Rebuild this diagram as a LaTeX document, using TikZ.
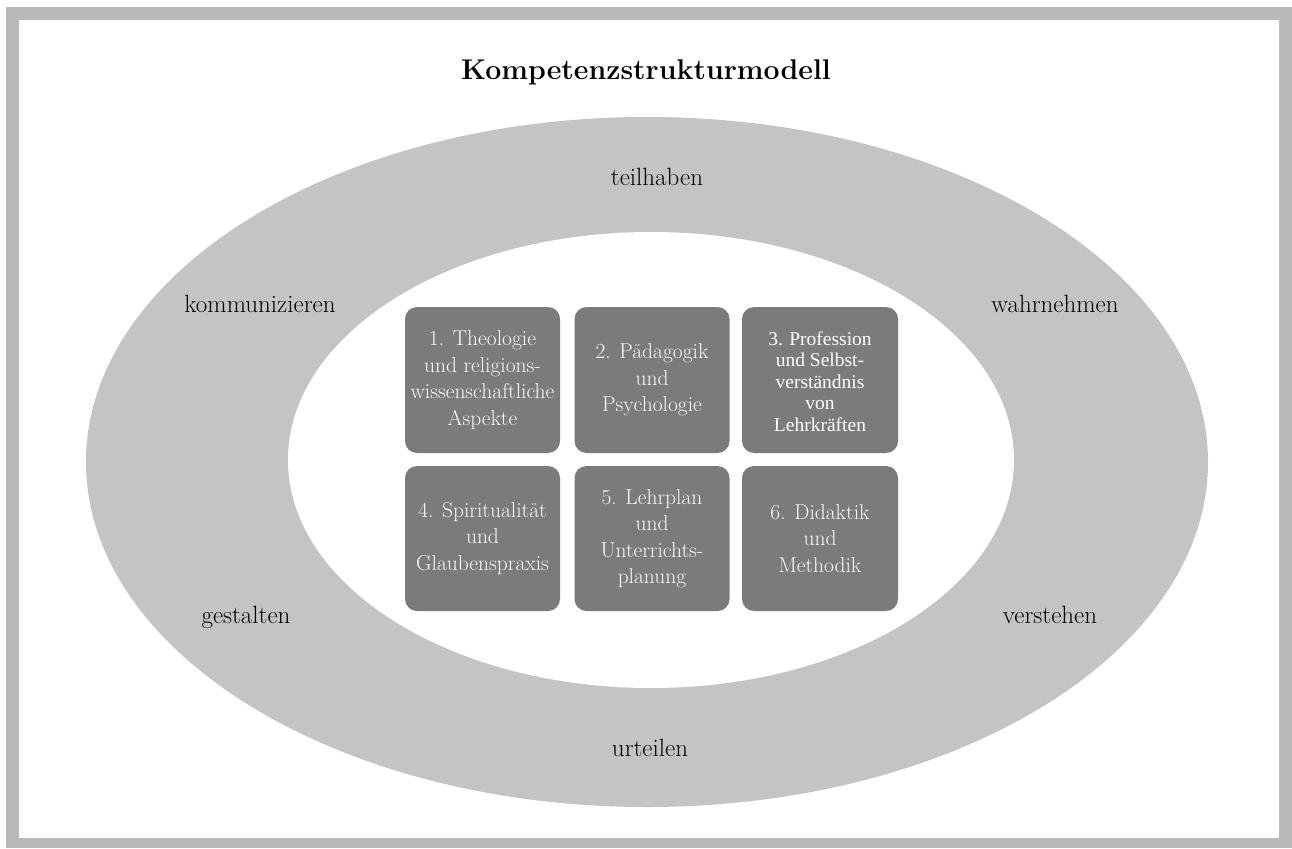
\documentclass[tikz,border=0pt]{standalone}
\usepackage{fontspec}
\newfontfamily\timesfont{Liberation Serif}
\definecolor{framegray}{HTML}{B9B9B9}
\definecolor{ringgray}{HTML}{C4C4C4}
\definecolor{boxgray}{HTML}{7B7B7B}
\definecolor{boxtext}{HTML}{FAFAFA}
\tikzset{
  ringlabel/.style={font=\fontsize{25}{29}\selectfont, text=black, inner sep=0pt, anchor=base},
  compbox/.style={fill=boxgray, rounded corners=12pt, minimum width=155pt, minimum height=146pt,
    text=boxtext, align=center, font=\fontsize{21.5}{26.5}\selectfont, inner sep=0pt},
  timesbox/.style={compbox, text=white, font=\timesfont\fontsize{19.5}{22}\selectfont},
}
\begin{document}
\begin{tikzpicture}[x=1pt,y=-1pt]
\useasboundingbox (0,0) rectangle (1292,848);
\fill[framegray] (6,7) rectangle (1292,848);
\fill[white] (19,20) rectangle (1279,838);
\fill[ringgray] (647,462) ellipse [x radius=561pt, y radius=345pt];
\fill[white] (651,460) ellipse [x radius=363pt, y radius=228pt];

\node[anchor=base, inner sep=0pt, font=\bfseries\fontsize{28.5}{32}\selectfont, text=black] (title) at (646,80) {Kompetenzstrukturmodell};

\node[ringlabel] (teil) at (657,185) {teilhaben};
\node[ringlabel] (komm) at (260,312) {kommunizieren};
\node[ringlabel] (wahr) at (1055,312) {wahrnehmen};
\node[ringlabel] (gest) at (246,623) {gestalten};
\node[ringlabel] (vers) at (1050,623) {verstehen};
\node[ringlabel] (urte) at (650,756) {urteilen};

\node[compbox] (b1) at (482.5,380) {1. Theologie\\und religions-\\wissenschaftliche\\Aspekte};
\node[compbox] (b2) at (652,380) {2. Pädagogik\\und\\Psychologie};
\node[timesbox, minimum width=156pt] (b3) at (820,380) {\raisebox{-4pt}[\height][\depth]{\begin{tabular}{@{}c@{}}3. Profession\\[-0.5pt]und Selbst-\\[-0.5pt]verständnis\\[-0.5pt]von\\[-0.5pt]Lehrkräften\end{tabular}}};
\node[compbox, minimum height=145pt] (b4) at (482.5,538.5) {4. Spiritualität\\und\\Glaubenspraxis};
\node[compbox, minimum height=145pt] (b5) at (652,538.5) {5. Lehrplan\\und\\Unterrichts-\\planung};
\node[compbox, minimum height=145pt, minimum width=156pt] (b6) at (820,538.5) {6. Didaktik\\und\\Methodik};
\end{tikzpicture}
\end{document}
